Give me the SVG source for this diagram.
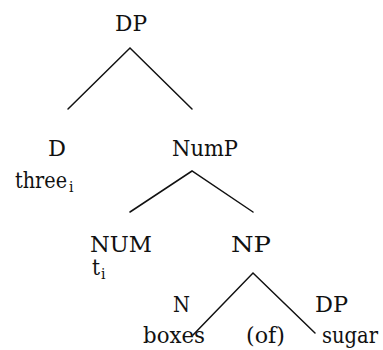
<svg xmlns="http://www.w3.org/2000/svg" width="383" height="350" viewBox="0 0 383 350">
  <style>
    .lbl { font-family: "DejaVu Serif", serif; font-size: 23px; fill: #111; }
    .sub { font-family: "DejaVu Serif", serif; font-size: 14px; fill: #111; }
    .edge { stroke: #111; stroke-width: 1.5; fill: none; stroke-linecap: round; stroke-linejoin: miter; }
  </style>
  <rect width="383" height="350" fill="#fff"/>
  <!-- tree branches -->
  <g id="connectors">
    <path class="edge" d="M68 109 L130 48 L192 109"/>
    <path class="edge" d="M130 212 L192 171 L253 212"/>
    <path class="edge" d="M193 335 L253 273 L315 333"/>
  </g>
  <g id="dp-root"><text class="lbl" x="115" y="31" textLength="32" lengthAdjust="spacingAndGlyphs">DP</text></g>
  <g id="d">
    <text class="lbl" x="48" y="156" textLength="18" lengthAdjust="spacingAndGlyphs">D</text>
    <text class="lbl" x="15" y="188" textLength="52" lengthAdjust="spacingAndGlyphs">three</text>
    <text class="sub" x="69" y="192">i</text>
  </g>
  <g id="nump"><text class="lbl" x="172" y="156" textLength="66" lengthAdjust="spacingAndGlyphs">NumP</text></g>
  <g id="num">
    <text class="lbl" x="90" y="252" textLength="62" lengthAdjust="spacingAndGlyphs">NUM</text>
    <text class="lbl" x="92" y="275" textLength="8" lengthAdjust="spacingAndGlyphs">t</text>
    <text class="sub" x="101" y="279">i</text>
  </g>
  <g id="np"><text class="lbl" x="231" y="252" textLength="40" lengthAdjust="spacingAndGlyphs">NP</text></g>
  <g id="n">
    <text class="lbl" x="173" y="312" textLength="17" lengthAdjust="spacingAndGlyphs">N</text>
    <text class="lbl" x="143" y="343" textLength="62" lengthAdjust="spacingAndGlyphs">boxes</text>
  </g>
  <g id="of"><text class="lbl" x="246" y="343" textLength="39" lengthAdjust="spacingAndGlyphs">(of)</text></g>
  <g id="dp-sugar">
    <text class="lbl" x="315" y="312" textLength="33" lengthAdjust="spacingAndGlyphs">DP</text>
    <text class="lbl" x="322" y="343" textLength="56" lengthAdjust="spacingAndGlyphs">sugar</text>
  </g>
</svg>
